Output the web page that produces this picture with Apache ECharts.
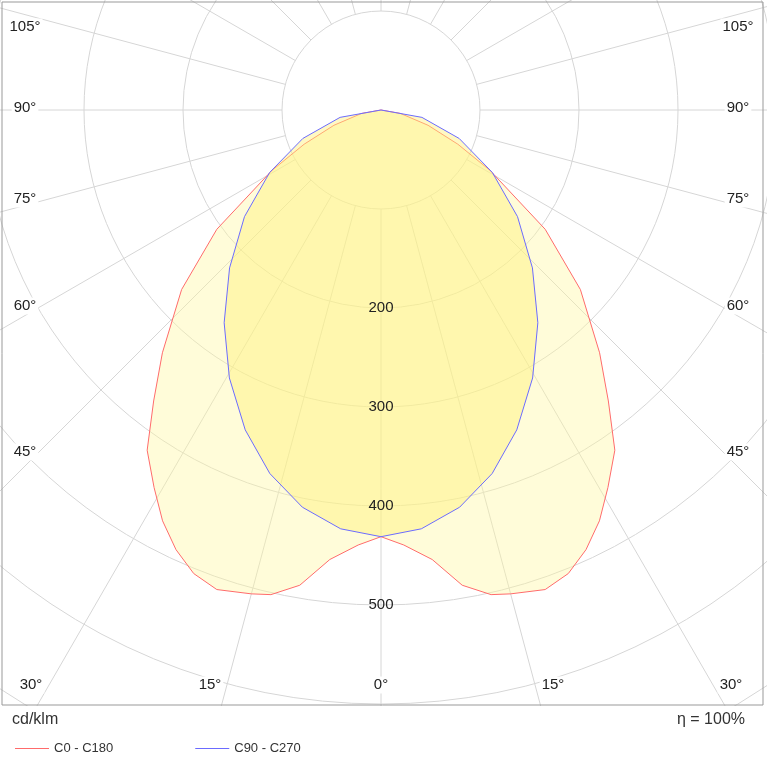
<!DOCTYPE html>
<html><head><meta charset="utf-8">
<script src="https://cdn.jsdelivr.net/npm/echarts@6/dist/echarts.min.js"></script>
<style>html,body{margin:0;padding:0;background:#fff}#chart{width:767px;height:767px}</style>
</head><body><div id="chart"></div>
<script>
// gamma angles (deg) and intensities (cd/klm), one half, mirrored
let gammaC0 = [0, 3, 6.5, 9.7, 12.8, 15, 18.9, 22, 25, 28, 31, 34.5, 38, 42, 48, 54, 61, 66, 72, 80, 90];
let valC0 = [431, 440, 457, 487, 502, 506, 512, 505, 490, 470, 445, 417, 373, 330, 271, 205, 126, 85, 50, 20, 0];
let gammaC90 = [0, 5.5, 11.2, 17, 23, 29.5, 36.4, 43.8, 52, 60.7, 70, 79.8, 90];
let valC90 = [431, 425, 409, 384, 351, 311, 267, 221, 175, 129, 84, 42, 0];
let ringLabels = [200, 300, 400, 500];
let edgeLabels = [
    ['105°', 25, 27], ['90°', 25, 108], ['75°', 25, 199], ['60°', 25, 306], ['45°', 25, 452],
    ['105°', 738, 27], ['90°', 738, 108], ['75°', 738, 199], ['60°', 738, 306], ['45°', 738, 452],
    ['30°', 31, 685], ['15°', 210, 685], ['0°', 381, 685], ['15°', 553, 685], ['30°', 731, 685]
];

function mirror(g, v) {
    let out = [];
    for (let i = 0; i < g.length; i++) out.push([v[i], g[i]]);
    for (let i = g.length - 1; i >= 0; i--) out.push([v[i], 360 - g[i]]);
    return out;
}

let chart = echarts.init(document.getElementById('chart'));
let center = [381, 110];
let option = {
    animation: false,
    polar: [
        {center: center, radius: [99, 693]},
        {center: center, radius: [0, 693]}
    ],
    angleAxis: [
        {polarIndex: 0, type: 'value', min: 0, max: 360, interval: 15, startAngle: -90,
         axisLine: {show: false}, axisTick: {show: false}, axisLabel: {show: false},
         splitLine: {lineStyle: {color: '#d6d6d6', width: 1}}},
        {polarIndex: 1, type: 'value', min: 0, max: 360, startAngle: -90,
         axisLine: {show: false}, axisTick: {show: false}, axisLabel: {show: false}, splitLine: {show: false}}
    ],
    radiusAxis: [
        {polarIndex: 0, min: 100, max: 700, interval: 100,
         axisLine: {show: false}, axisTick: {show: false}, axisLabel: {show: false},
         splitLine: {lineStyle: {color: '#d6d6d6', width: 1}}},
        {polarIndex: 1, min: 0, max: 700,
         axisLine: {show: false}, axisTick: {show: false}, axisLabel: {show: false}, splitLine: {show: false}}
    ],
    legend: {
        left: 10, top: 737, itemWidth: 34, itemHeight: 1, itemGap: 82, icon: 'rect', z: 60,
        textStyle: {fontFamily: 'Arial', fontSize: 13, color: '#333'},
        data: ['C0 - C180', 'C90 - C270']
    },
    series: [
        {name: 'C0 - C180', type: 'line', coordinateSystem: 'polar', polarIndex: 1, showSymbol: false,
         data: mirror(gammaC0, valC0), color: '#ff6b6b', lineStyle: {width: 1, color: '#ff6b6b'},
         areaStyle: {color: '#fff7a0', opacity: 0.4}, z: 3},
        {name: 'C90 - C270', type: 'line', coordinateSystem: 'polar', polarIndex: 1, showSymbol: false,
         data: mirror(gammaC90, valC90), color: '#6b6bff', lineStyle: {width: 1, color: '#6b6bff'},
         areaStyle: {color: '#fff27a', opacity: 0.45}, z: 4}
    ]
};
chart.setOption(option);

let g = [
    {type: 'rect', shape: {x: 0, y: 706, width: 767, height: 61}, style: {fill: '#fff'}, z: 50},
    {type: 'rect', shape: {x: 2, y: 2, width: 761, height: 703}, style: {fill: 'none', stroke: '#999', lineWidth: 1}, z: 51},
    {type: 'text', left: 12, top: 712, style: {text: 'cd/klm', fontFamily: 'Arial', fontSize: 16, fill: '#333'}, z: 52},
    {type: 'text', right: 22, top: 712, style: {text: 'η = 100%', fontFamily: 'Arial', fontSize: 16, fill: '#333'}, z: 52}
];
ringLabels.forEach(function (r) {
    let p = chart.convertToPixel({seriesIndex: 0}, [r, 0]);
    g.push({type: 'text', x: p[0], y: p[1], z: 52,
        style: {text: String(r), fontFamily: 'Arial', fontSize: 15, fill: '#222', align: 'center', verticalAlign: 'middle'}});
});
edgeLabels.forEach(function (l) {
    g.push({type: 'text', x: l[1], y: l[2], z: 52,
        style: {text: l[0], fontFamily: 'Arial', fontSize: 15, fill: '#222', align: 'center', verticalAlign: 'middle',
            backgroundColor: '#fff', padding: [1, 2]}});
});
chart.setOption({graphic: g});
</script></body></html>
